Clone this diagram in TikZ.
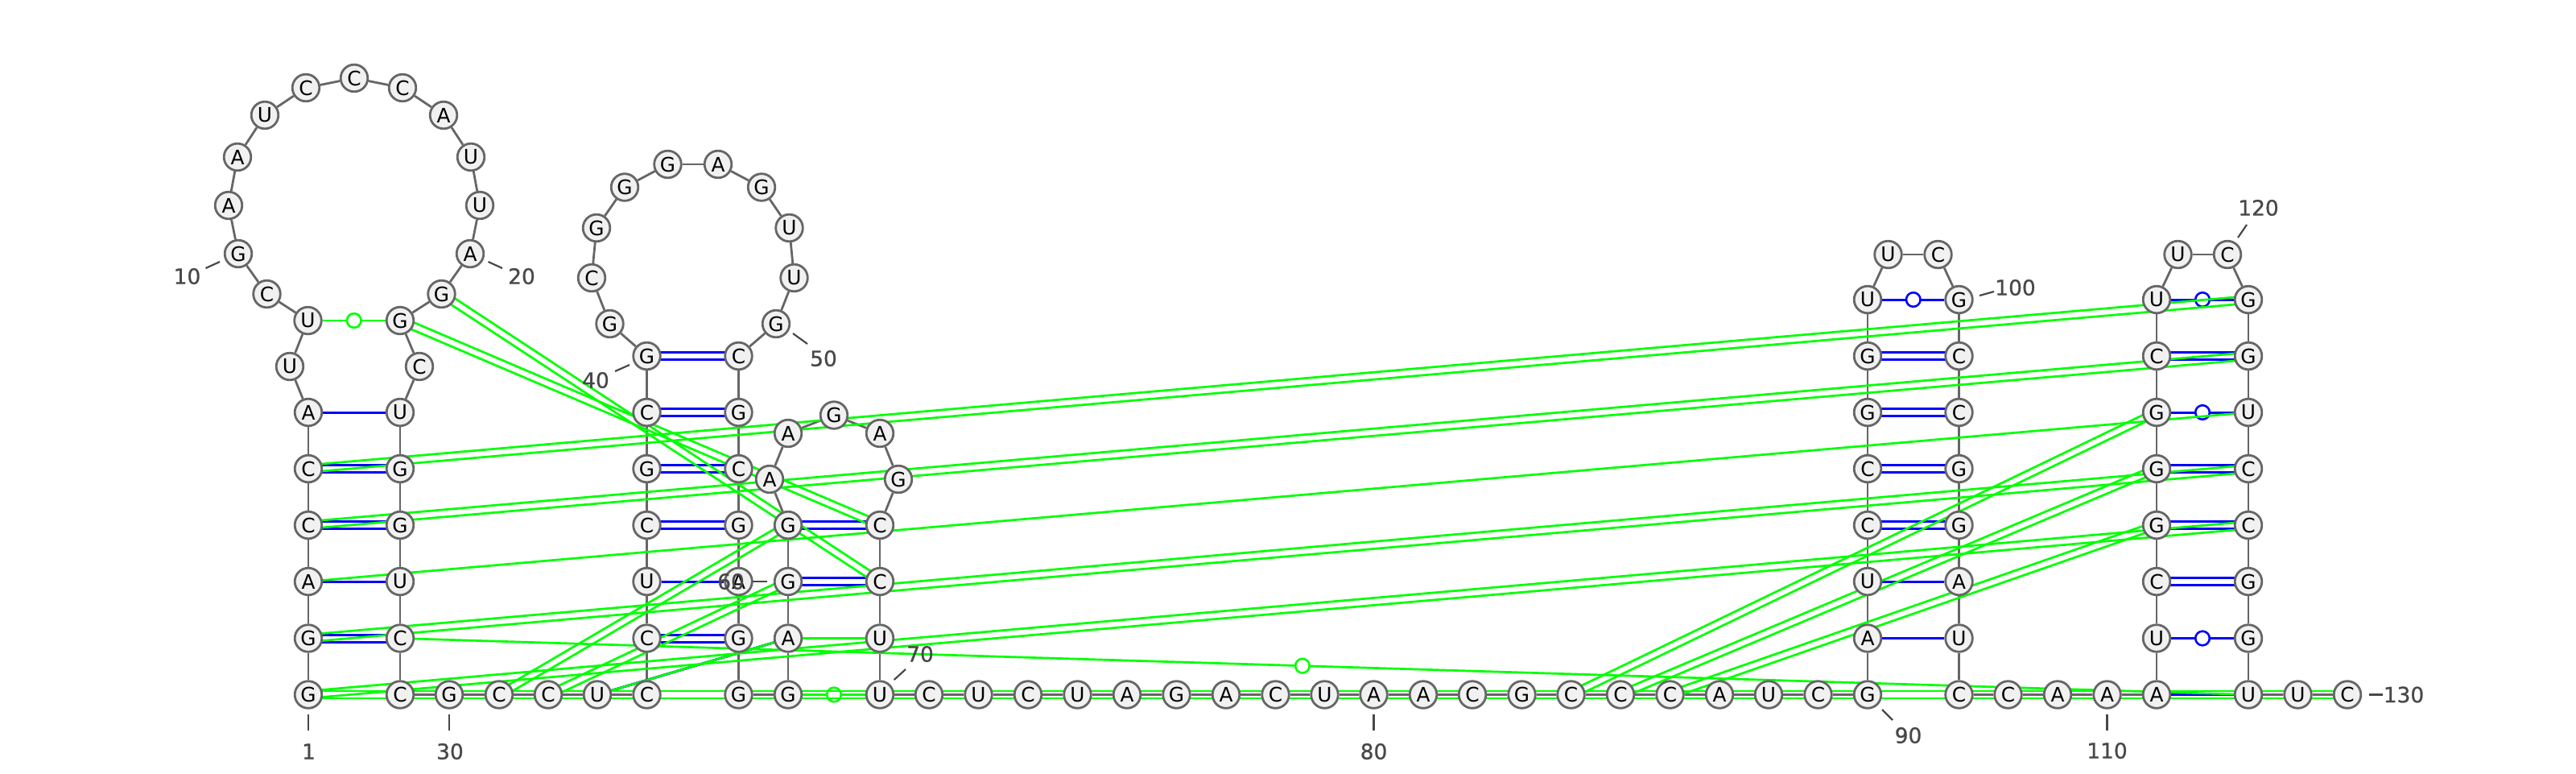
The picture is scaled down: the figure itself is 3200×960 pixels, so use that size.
\documentclass[tikz,border=0pt]{standalone}
\usepackage{fontspec}
\setmainfont{DejaVu Sans}
\newfontfamily\lblfont[FakeBold=0.9]{DejaVu Sans}
\usetikzlibrary{calc}
\pgfdeclarelayer{bg}
\pgfsetlayers{bg,main}
\definecolor{ntfill}{HTML}{F1F1F1}
\definecolor{ntline}{HTML}{666666}
\definecolor{lblcol}{HTML}{484848}
\definecolor{grn}{HTML}{00FF00}
\definecolor{blu}{HTML}{0000FF}
\tikzset{
  nt/.style={circle,draw=ntline,fill=ntfill,line width=1.4pt,minimum size=16.8pt,inner sep=0pt,font=\fontsize{12.4}{13}\selectfont,text=black},
  lbl/.style={inner sep=0pt,font=\lblfont\fontsize{13.2}{14}\selectfont,text=lblcol},
  tick/.style={draw=lblcol,line width=1.1pt},
  backbone/.style={draw=ntline,line width=1.4pt},
  bluepair/.style={draw=blu,line width=1.5pt},
  greenpair/.style={draw=grn,line width=1.35pt},
  wobb/.style={circle,fill=white,draw=#1,line width=1.3pt,minimum size=8.8pt,inner sep=0pt}
}
\newcommand{\dbl}[3]{%
  \draw[#3] ($(#1)!2.25pt!90:(#2)$) -- ($(#2)!2.25pt!-90:(#1)$);
  \draw[#3] ($(#1)!2.25pt!-90:(#2)$) -- ($(#2)!2.25pt!90:(#1)$);}
\begin{document}
\begin{tikzpicture}[x=0.5pt,y=-0.5pt]
\useasboundingbox (0,0) rectangle (3200,960);
% first stem and big loop
\node[nt] (n1) at (383,862.5) {G};
\node[nt] (n2) at (383,792.5) {G};
\node[nt] (n3) at (383,722) {A};
\node[nt] (n4) at (383,652) {C};
\node[nt] (n5) at (383,582) {C};
\node[nt] (n6) at (383,512) {A};
\node[nt] (n7) at (360,455) {U};
\node[nt] (n8) at (382.5,398) {U};
\node[nt] (n9) at (331.5,365) {C};
\node[nt] (n10) at (296,315) {G};
\node[nt] (n11) at (284,255) {A};
\node[nt] (n12) at (295,195) {A};
\node[nt] (n13) at (329,143) {U};
\node[nt] (n14) at (380,109) {C};
\node[nt] (n15) at (440,97) {C};
\node[nt] (n16) at (500,109) {C};
\node[nt] (n17) at (551,143) {A};
\node[nt] (n18) at (585,195) {U};
\node[nt] (n19) at (596,255) {U};
\node[nt] (n20) at (584,315) {A};
\node[nt] (n21) at (548.5,365) {G};
\node[nt] (n22) at (497,398) {G};
\node[nt] (n23) at (521,455) {C};
\node[nt] (n24) at (497,512) {U};
\node[nt] (n25) at (497,582) {G};
\node[nt] (n26) at (497,652) {G};
\node[nt] (n27) at (497,722) {U};
\node[nt] (n28) at (497,792.5) {C};
\node[nt] (n29) at (497,862.5) {C};
\node[nt] (n30) at (558,862.5) {G};
\node[nt] (n31) at (620,862.5) {C};
\node[nt] (n32) at (681,862.5) {C};
\node[nt] (n33) at (742,862.5) {U};
% second stem and loop
\node[nt] (n34) at (803.5,862.5) {C};
\node[nt] (n35) at (803.5,792.5) {C};
\node[nt] (n36) at (803.5,722) {U};
\node[nt] (n37) at (803.5,652) {C};
\node[nt] (n38) at (803.5,582) {G};
\node[nt] (n39) at (803.5,512) {C};
\node[nt] (n40) at (803.5,442) {G};
\node[nt] (n41) at (757.5,402) {G};
\node[nt] (n42) at (735,345) {C};
\node[nt] (n43) at (741,283) {G};
\node[nt] (n44) at (776,232.5) {G};
\node[nt] (n45) at (829.5,204) {G};
\node[nt] (n46) at (892,204) {A};
\node[nt] (n47) at (946,232.5) {G};
\node[nt] (n48) at (980.5,283) {U};
\node[nt] (n49) at (986.5,345) {U};
\node[nt] (n50) at (964,402) {G};
\node[nt] (n51) at (917.5,442) {C};
\node[nt] (n52) at (917.5,512) {G};
\node[nt] (n53) at (917.5,582) {C};
\node[nt] (n54) at (917.5,652) {G};
\node[nt] (n55) at (917.5,722) {A};
\node[nt] (n56) at (917.5,792.5) {G};
\node[nt] (n57) at (917.5,862.5) {G};
% third hairpin
\node[nt] (n58) at (979,862.5) {G};
\node[nt] (n59) at (979,792.5) {A};
\node[nt] (n60) at (979,722) {G};
\node[nt] (n61) at (979,652) {G};
\node[nt] (n62) at (956,595) {A};
\node[nt] (n63) at (979,538) {A};
\node[nt] (n64) at (1036,515.5) {G};
\node[nt] (n65) at (1093,538) {A};
\node[nt] (n66) at (1116,595) {G};
\node[nt] (n67) at (1093,652) {C};
\node[nt] (n68) at (1093,722) {C};
\node[nt] (n69) at (1093,792.5) {U};
\node[nt] (n70) at (1093,862.5) {U};
% long single strand
\node[nt] (n71) at (1154,862.5) {C};
\node[nt] (n72) at (1215.5,862.5) {U};
\node[nt] (n73) at (1277,862.5) {C};
\node[nt] (n74) at (1338.5,862.5) {U};
\node[nt] (n75) at (1400,862.5) {A};
\node[nt] (n76) at (1461.5,862.5) {G};
\node[nt] (n77) at (1523,862.5) {A};
\node[nt] (n78) at (1584.5,862.5) {C};
\node[nt] (n79) at (1645.5,862.5) {U};
\node[nt] (n80) at (1706.5,862.5) {A};
\node[nt] (n81) at (1768,862.5) {A};
\node[nt] (n82) at (1829,862.5) {C};
\node[nt] (n83) at (1890.5,862.5) {G};
\node[nt] (n84) at (1951.5,862.5) {C};
\node[nt] (n85) at (2013,862.5) {C};
\node[nt] (n86) at (2074.5,862.5) {C};
\node[nt] (n87) at (2136,862.5) {A};
\node[nt] (n88) at (2197,862.5) {U};
\node[nt] (n89) at (2258.5,862.5) {C};
\node[nt] (n90) at (2320,862.5) {G};
% fourth stem
\node[nt] (n91) at (2320,792.5) {A};
\node[nt] (n92) at (2320,722) {U};
\node[nt] (n93) at (2320,652) {C};
\node[nt] (n94) at (2320,582) {C};
\node[nt] (n95) at (2320,512) {G};
\node[nt] (n96) at (2320,442) {G};
\node[nt] (n97) at (2320,372) {U};
\node[nt] (n98) at (2345.5,316) {U};
\node[nt] (n99) at (2407.5,316) {C};
\node[nt] (n100) at (2433.5,372) {G};
\node[nt] (n101) at (2433.5,442) {C};
\node[nt] (n102) at (2433.5,512) {C};
\node[nt] (n103) at (2433.5,582) {G};
\node[nt] (n104) at (2433.5,652) {G};
\node[nt] (n105) at (2433.5,722) {A};
\node[nt] (n106) at (2433.5,792.5) {U};
\node[nt] (n107) at (2433.5,862.5) {C};
\node[nt] (n108) at (2494.5,862.5) {C};
\node[nt] (n109) at (2556,862.5) {A};
\node[nt] (n110) at (2617.5,862.5) {A};
% fifth stem
\node[nt] (n111) at (2679,862.5) {A};
\node[nt] (n112) at (2679,792.5) {U};
\node[nt] (n113) at (2679,722) {C};
\node[nt] (n114) at (2679,652) {G};
\node[nt] (n115) at (2679,582) {G};
\node[nt] (n116) at (2679,512) {G};
\node[nt] (n117) at (2679,442) {C};
\node[nt] (n118) at (2679,372) {U};
\node[nt] (n119) at (2705.5,316) {U};
\node[nt] (n120) at (2767,316) {C};
\node[nt] (n121) at (2793,372) {G};
\node[nt] (n122) at (2793,442) {G};
\node[nt] (n123) at (2793,512) {U};
\node[nt] (n124) at (2793,582) {C};
\node[nt] (n125) at (2793,652) {C};
\node[nt] (n126) at (2793,722) {G};
\node[nt] (n127) at (2793,792.5) {G};
\node[nt] (n128) at (2793,862.5) {U};
\node[nt] (n129) at (2854.5,862.5) {U};
\node[nt] (n130) at (2916,862.5) {C};

\begin{pgfonlayer}{bg}
  % backbone
  \foreach \i in {1,...,129}{
    \pgfmathtruncatemacro{\j}{\i+1}
    \draw[backbone] (n\i) -- (n\j);
  }
  % canonical pairs
  \foreach \a/\b in {2/28,4/26,5/25,35/56,37/54,38/53,39/52,40/51,60/68,61/67,93/104,94/103,95/102,96/101,113/126,114/125,115/124,117/122}{
    \dbl{n\a}{n\b}{bluepair}
  }
  \foreach \a/\b in {3/27,6/24,36/55,91/106,92/105,111/128,33/59}{
    \draw[bluepair] (n\a) -- (n\b);
  }
  \draw[bluepair] (n97) -- node[wobb=blu] (w97) {} (n100);
  \draw[bluepair] (n112) -- node[wobb=blu] (w112) {} (n127);
  \draw[bluepair] (n116) -- node[wobb=blu] (w116) {} (n123);
  \draw[bluepair] (n118) -- node[wobb=blu] (w118) {} (n121);
  % green interactions
  \draw[greenpair] (n8) -- node[wobb=grn] (w8) {} (n22);
  \draw[greenpair] (n28) -- node[wobb=grn,pos=.488] (w28) {} (n128);
  \draw[greenpair] (n58) -- node[wobb=grn] (w58) {} (n70);
  \foreach \a/\b in {3/123,59/69,33/59}{
    \draw[greenpair] (n\a) -- (n\b);
  }
  \foreach \a/\b in {5/121,4/122,2/124,1/125,1/130,21/68,22/67,31/61,32/60,84/116,85/115,86/114}{
    \dbl{n\a}{n\b}{greenpair}
  }
\end{pgfonlayer}

% position labels and their ticks
\node[lbl] (l1) at (383.5,933) {1};
\coordinate (a1) at (383,887); \coordinate (b1) at (383,907);
\node[lbl] (l10) at (232.5,343) {10};
\coordinate (a10) at (273,325); \coordinate (b10) at (255.5,333);
\node[lbl] (l20) at (648,343) {20};
\coordinate (a20) at (606.5,325); \coordinate (b20) at (624,333);
\node[lbl] (l30) at (559,933) {30};
\coordinate (a30) at (558,887); \coordinate (b30) at (558,907);
\node[lbl] (l40) at (740,472) {40};
\coordinate (a40) at (782,453); \coordinate (b40) at (764,461);
\node[lbl] (l50) at (1023,445) {50};
\coordinate (a50) at (985,414); \coordinate (b50) at (1003,427);
\node[lbl] (l60) at (908,722) {60};
\coordinate (a60) at (953,722); \coordinate (b60) at (935,722);
\node[lbl] (l70) at (1143,812) {70};
\coordinate (a70) at (1110.7,844); \coordinate (b70) at (1125,831);
\node[lbl] (l80) at (1706.5,933) {80};
\coordinate (a80) at (1706.5,887); \coordinate (b80) at (1706.5,907);
\node[lbl] (l90) at (2370.5,913) {90};
\coordinate (a90) at (2338,881); \coordinate (b90) at (2351,894);
\node[lbl] (l100) at (2503.5,357) {100};
\coordinate (a100) at (2459,367); \coordinate (b100) at (2477,362);
\node[lbl] (l110) at (2617.5,932) {110};
\coordinate (a110) at (2617.5,887); \coordinate (b110) at (2617.5,907);
\node[lbl] (l120) at (2805.5,258) {120};
\coordinate (a120) at (2780,295); \coordinate (b120) at (2791,279);
\node[lbl] (l130) at (2986,862.5) {130};
\coordinate (a130) at (2943,862.5); \coordinate (b130) at (2960,862.5);
\foreach \k in {1,10,20,30,40,50,60,70,80,90,100,110,120,130}{
  \draw[tick] (a\k) -- (b\k);
}
\end{tikzpicture}
\end{document}
